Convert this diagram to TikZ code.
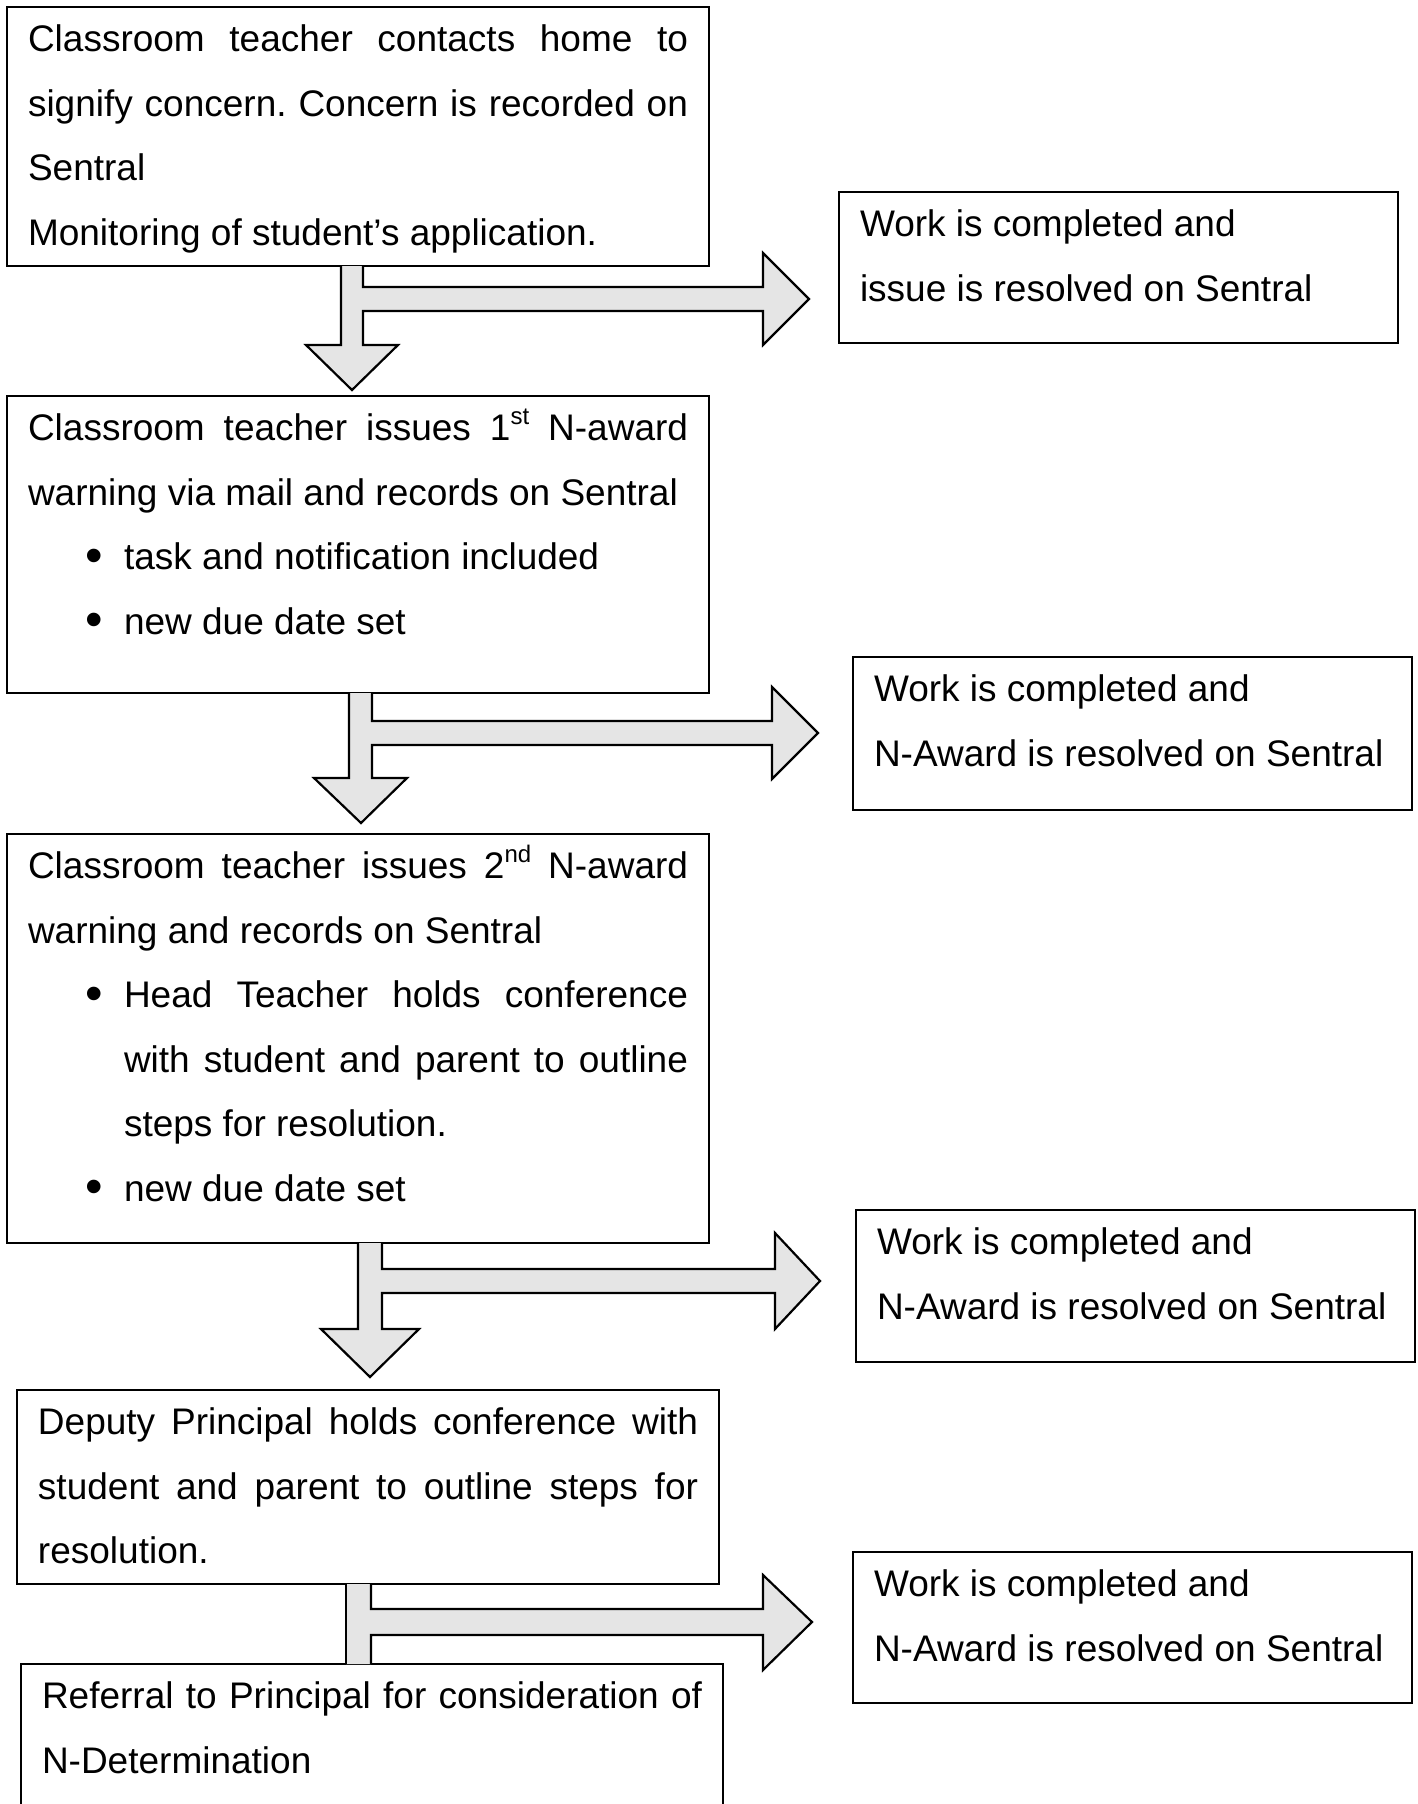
\documentclass[tikz,border=0pt]{standalone}
\usepackage{fontspec}
\setmainfont{Liberation Sans}
\newcommand{\txtsetup}{\frenchspacing\tolerance=9999\hbadness=10000\hfuzz=20pt\hyphenpenalty=10000\exhyphenpenalty=10000\parskip=0pt\parindent=0pt\rule{0pt}{22.25pt}}
\newcommand{\bigbullet}{\raisebox{-0.08em}{\scalebox{1.35}{\textbullet}}}
\newcommand{\bitem}[1]{\par{\leftskip=48pt\noindent\llap{\makebox[48pt][l]{\hspace{28.5pt}\bigbullet}}#1\par}}
\newcommand{\supr}[1]{\raisebox{0.42em}{\fontsize{12pt}{12pt}\selectfont #1}}
\newcommand{\lbox}[2]{\parbox[t][#1][t]{330pt}{\txtsetup #2}}
\newcommand{\rbox}[2]{\parbox[t][#1][t]{258.5pt}{\txtsetup #2}}
\tikzset{
  box/.style={draw, line width=0.65pt, fill=white, anchor=north west,
    inner xsep=10.5pt, inner ysep=0pt, outer sep=0pt,
    font=\fontsize{18.5pt}{32.25pt}\selectfont},
  blk/.style={fill=gray!20},
  blkline/.style={line width=1.1pt, line join=miter},
}
\begin{document}
\begin{tikzpicture}[x=0.5pt, y=-0.5pt]
\useasboundingbox (0,0) rectangle (1418,1804);

% left-hand step boxes
\node[box] (b1) at (7,7) {\lbox{129.5pt}{Classroom teacher contacts home to\linebreak signify concern. Concern is recorded on\linebreak Sentral\par Monitoring of student’s application.}};
\node[box] (b2) at (7,396) {\lbox{148.5pt}{Classroom teacher issues 1\supr{st} N-award\linebreak warning via mail and records on Sentral\bitem{task and notification included}\bitem{new due date set}}};
\node[box] (b3) at (7,834) {\lbox{204.5pt}{Classroom teacher issues 2\supr{nd} N-award\linebreak warning and records on Sentral\bitem{Head Teacher holds conference\linebreak with student and parent to outline\linebreak steps for resolution.}\bitem{new due date set}}};
\node[box] (b4) at (17,1390) {\lbox{97pt}{Deputy Principal holds conference with\linebreak student and parent to outline steps for\linebreak resolution.}};
\node[box] (b5) at (21,1664) {\lbox{88pt}{Referral to Principal for consideration of\linebreak N-Determination}};

% right-hand outcome boxes
\node[box] (r1) at (839,192) {\rbox{75.5pt}{\mbox{Work is completed and}\\\mbox{issue is resolved on Sentral}}};
\node[box] (r2) at (853,657) {\rbox{76.5pt}{\mbox{Work is completed and}\\\mbox{N-Award is resolved on Sentral}}};
\node[box] (r3) at (856,1210) {\rbox{76pt}{\mbox{Work is completed and}\\\mbox{N-Award is resolved on Sentral}}};
\node[box] (r4) at (853,1552) {\rbox{75.5pt}{\mbox{Work is completed and}\\\mbox{N-Award is resolved on Sentral}}};

% block arrows
\draw[blk, blkline] (b1.south -| 341,0) -- (341,345) -- (306,345) -- (352,390) -- (398,345) -- (363,345)
  -- (363,311) -- (763,311) -- (763,345) -- (809,299) -- (763,253) -- (763,287) -- (363,287) -- (b1.south -| 363,0);
\draw[blk, blkline] (b2.south -| 349,0) -- (349,778) -- (314,778) -- (361,823) -- (407,778) -- (372,778)
  -- (372,745) -- (772,745) -- (772,779) -- (818,733) -- (772,687) -- (772,721) -- (372,721) -- (b2.south -| 372,0);
\draw[blk, blkline] (b3.south -| 358,0) -- (358,1329) -- (321,1329) -- (370,1377) -- (419,1329) -- (382,1329)
  -- (382,1293) -- (775,1293) -- (775,1329) -- (820,1281) -- (775,1233) -- (775,1269) -- (382,1269) -- (b3.south -| 382,0);
\fill[blk] (b4.south -| 346,0) -- (b5.north -| 346,0) -- (b5.north -| 371,0) -- (371,1635) -- (763,1635) -- (763,1670)
  -- (812,1622) -- (763,1575) -- (763,1609) -- (371,1609) -- (b4.south -| 371,0) -- cycle;
\draw[blkline] (b4.south -| 346,0) -- (b5.north -| 346,0);
\draw[blkline] (b5.north -| 371,0) -- (371,1635) -- (763,1635) -- (763,1670)
  -- (812,1622) -- (763,1575) -- (763,1609) -- (371,1609) -- (b4.south -| 371,0);
\end{tikzpicture}
\end{document}
